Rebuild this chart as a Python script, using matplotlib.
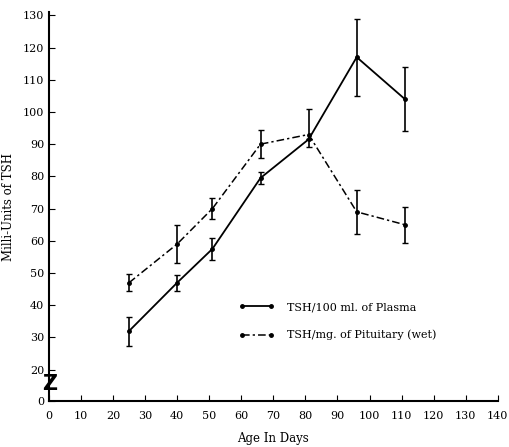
#TSH vs age, plasma and pituitary, with error bars
import numpy as np
from matplotlib import pyplot as plt

days = [25, 40, 51, 66, 81, 96, 111]
plasma = [32, 47, 57.5, 79.5, 91.5, 117, 104]
plasma_err = [4.5, 2.5, 3.5, 2, 0, 12, 10]
pituitary = [47, 59, 70, 90, 93, 69, 65]
pit_lo = [2.6, 6, 3.2, 4.3, 4, 6.8, 5.6]
pit_hi = [2.6, 6, 3.2, 4.3, 8, 6.8, 5.6]

plt.rcParams['font.family'] = 'DejaVu Serif'
fig = plt.figure(figsize=(5.09, 4.47), dpi=100)
ax = fig.add_axes([0.096, 0.103, 0.882, 0.87])

e1 = ax.errorbar(days, plasma, yerr=plasma_err, color='k', lw=1.3, marker='o', ms=2.5,
                 capsize=2, elinewidth=1.2)
e2 = ax.errorbar(days, pituitary, yerr=[pit_lo, pit_hi], color='k', lw=1.1, marker='o', ms=2.5,
                 capsize=2, elinewidth=1.2, dashes=[5, 2, 1.5, 2])

ax.set_xlim(0, 140)
ax.set_ylim(10.3, 131)
ax.set_xticks(np.arange(0, 141, 10))
ax.set_yticks([10.3] + list(range(20, 131, 10)))
ax.set_yticklabels(['0'] + [str(v) for v in range(20, 131, 10)])
ax.tick_params(direction='in', length=4, labelsize=8)
ax.tick_params(axis='x', pad=7)
for s in ['top', 'right']:
    ax.spines[s].set_visible(False)
ax.spines['left'].set_linewidth(1.5)
ax.spines['bottom'].set_linewidth(1.5)

# axis break mark
ax.text(0.3, 15.5, 'Z', fontsize=15, fontweight='bold', ha='center', va='center',
        family='DejaVu Sans', clip_on=False)

ax.set_xlabel('Age In Days', fontsize=8.5, labelpad=8)
ax.set_ylabel('Milli-Units of TSH', fontsize=8.5)
ax.yaxis.set_label_coords(-0.075, 0.5)

ax.legend([e1.lines[0], e2.lines[0]],
          ['TSH/100 ml. of Plasma', 'TSH/mg. of Pituitary (wet)'],
          loc='lower left', bbox_to_anchor=(0.4, 0.13), frameon=False, fontsize=8,
          numpoints=2, handlelength=3.2, labelspacing=1.6, handletextpad=1.2)

plt.savefig('out.png', dpi=100)
